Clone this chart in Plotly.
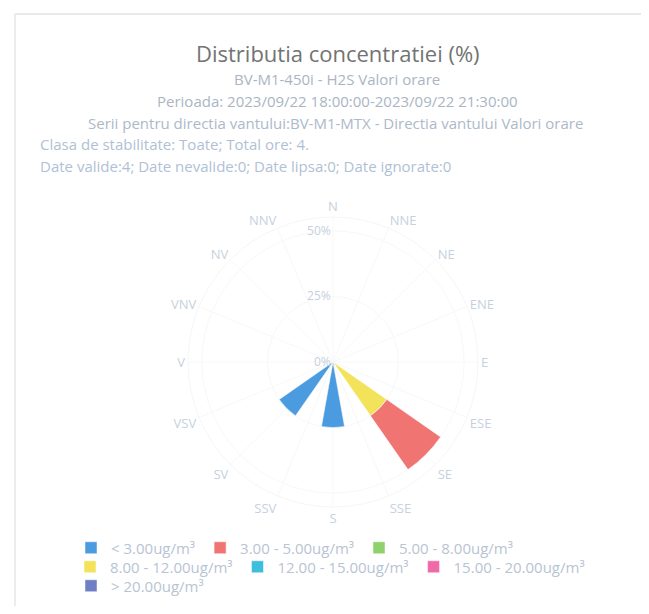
import plotly.graph_objects as go

directions = ["N", "NNE", "NE", "ENE", "E", "ESE", "SE", "SSE",
              "S", "SSV", "SV", "VSV", "V", "VNV", "NV", "NNV"]

class_labels = ["< 3.00ug/m³", "3.00 - 5.00ug/m³", "5.00 - 8.00ug/m³",
                "8.00 - 12.00ug/m³", "12.00 - 15.00ug/m³",
                "15.00 - 20.00ug/m³", "> 20.00ug/m³"]
class_colors = ["#4a9be0", "#f07472", "#8fd16c", "#f3e35a",
                "#3fbddc", "#f06aa8", "#6f7fc4"]

# percentage of hours per direction for each concentration class
v_lt3 = [0, 0, 0, 0, 0, 0, 0, 0, 25, 0, 25, 0, 0, 0, 0, 0]
v_3_5 = [0, 0, 0, 0, 0, 0, 25, 0, 0, 0, 0, 0, 0, 0, 0, 0]
v_5_8 = [0, 0, 0, 0, 0, 0, 0, 0, 0, 0, 0, 0, 0, 0, 0, 0]
v_8_12 = [0, 0, 0, 0, 0, 0, 25, 0, 0, 0, 0, 0, 0, 0, 0, 0]
v_12_15 = [0, 0, 0, 0, 0, 0, 0, 0, 0, 0, 0, 0, 0, 0, 0, 0]
v_15_20 = [0, 0, 0, 0, 0, 0, 0, 0, 0, 0, 0, 0, 0, 0, 0, 0]
v_gt20 = [0, 0, 0, 0, 0, 0, 0, 0, 0, 0, 0, 0, 0, 0, 0, 0]
series_values = [v_lt3, v_3_5, v_5_8, v_8_12, v_12_15, v_15_20, v_gt20]

radial_ticks = [0, 25, 50]

title_text = "Distributia concentratiei (%)"
subtitle_lines = [
    "BV-M1-450i - H2S Valori orare",
    "Perioada: 2023/09/22 18:00:00-2023/09/22 21:30:00",
    "Serii pentru directia vantului:BV-M1-MTX - Directia vantului Valori orare",
]
info_lines = [
    "Clasa de stabilitate: Toate; Total ore: 4.",
    "Date valide:4; Date nevalide:0; Date lipsa:0; Date ignorate:0",
]

# page is 649x614; the html body has an 8px margin
PAGE_W, PAGE_H, BODY = 649, 614, 8
W, H = PAGE_W - 2 * BODY, PAGE_H - 2 * BODY
FONT = "Open Sans"

def px(x):
    return (x - BODY) / W

def py(y):
    return 1 - (y - BODY) / H

legend_of = ["legend", "legend", "legend", "legend2", "legend2", "legend2", "legend3"]

fig = go.Figure()
# add in reverse order so the first class is stacked outermost (as in the reference)
for i in reversed(range(len(class_labels))):
    fig.add_trace(go.Barpolar(
        r=series_values[i],
        theta=directions,
        name=class_labels[i],
        marker=dict(color=class_colors[i], line=dict(color="white", width=0.5)),
        legend=legend_of[i],
        legendrank=i + 1,
    ))

cx, cy, R = 333, 362, 145
fig.update_layout(
    width=W, height=H,
    margin=dict(l=0, r=0, t=0, b=0),
    paper_bgcolor="white",
    plot_bgcolor="white",
    font=dict(family=FONT, color="#b9c5d3", size=12),
    polar=dict(
        domain=dict(x=[px(cx - R), px(cx + R)], y=[py(cy + R), py(cy - R)]),
        bgcolor="white",
        bargap=0.1,
        angularaxis=dict(
            rotation=90, direction="clockwise",
            categoryorder="array", categoryarray=directions,
            showline=True, linecolor="#f6f6f6", gridcolor="#f8f8f8",
            ticks="", tickfont=dict(size=13, color="#c6d1de"),
        ),
        radialaxis=dict(
            range=[0, 55.3], angle=90, tickangle=90, side="counterclockwise",
            tickvals=radial_ticks, ticktext=[f"{v}%" for v in radial_ticks],
            showline=False, gridcolor="#f8f8f8", ticks="",
            tickfont=dict(size=12, color="#c6d1de"),
        ),
    ),
    showlegend=True,
)

leg_common = dict(orientation="h", xanchor="left", yanchor="middle",
                  font=dict(family=FONT, size=15, color="#b8c4d3"),
                  bgcolor="rgba(0,0,0,0)", traceorder="normal",
                  itemclick=False, itemdoubleclick=False)
fig.update_layout(
    legend=dict(x=px(71), y=py(548), **leg_common),
    legend2=dict(x=px(70), y=py(567), **leg_common),
    legend3=dict(x=px(71), y=py(586), **leg_common),
)

annotations = [
    dict(text=title_text, x=px(338), y=py(53), xanchor="center", yanchor="middle",
         font=dict(family=FONT, size=22, color="#737373")),
    dict(text=subtitle_lines[0], x=px(337), y=py(79), xanchor="center", yanchor="middle",
         font=dict(family=FONT, size=15, color="#aab5c3")),
    dict(text=subtitle_lines[1], x=px(337), y=py(101), xanchor="center", yanchor="middle",
         font=dict(family=FONT, size=15, color="#aab5c3")),
    dict(text=subtitle_lines[2], x=px(336), y=py(123), xanchor="center", yanchor="middle",
         font=dict(family=FONT, size=15, color="#acb9c9")),
    dict(text=info_lines[0], x=px(38), y=py(144), xanchor="left", yanchor="middle",
         font=dict(family=FONT, size=15, color="#b0c1d5")),
    dict(text=info_lines[1], x=px(38), y=py(166), xanchor="left", yanchor="middle",
         font=dict(family=FONT, size=15, color="#b0c1d5")),
]
for a in annotations:
    a.update(xref="paper", yref="paper", showarrow=False)
fig.update_layout(annotations=annotations)

# card border (top and left edges)
fig.update_layout(shapes=[
    dict(type="line", xref="paper", yref="paper", x0=px(15), x1=1.0, y0=py(14), y1=py(14),
         line=dict(color="#e2e2e2", width=1.5)),
    dict(type="line", xref="paper", yref="paper", x0=px(15), x1=px(15), y0=py(14), y1=0,
         line=dict(color="#e6e6e6", width=1.5)),
])

fig.write_html("out.html")
